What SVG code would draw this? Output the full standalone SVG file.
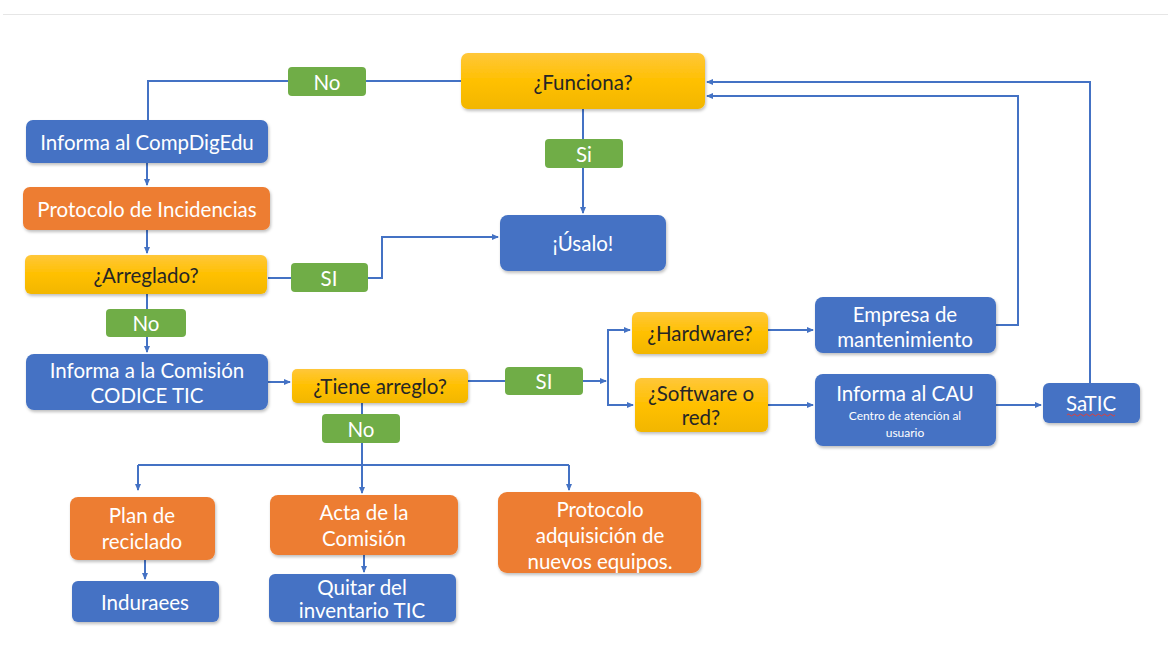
<svg xmlns="http://www.w3.org/2000/svg" width="1168" height="669" viewBox="0 0 1168 669">
<defs>
<linearGradient id="yel" x1="0" y1="0" x2="0" y2="1">
<stop offset="0" stop-color="#FFC73A"/>
<stop offset="0.5" stop-color="#FFC000"/>
<stop offset="1" stop-color="#F2B600"/>
</linearGradient>
<filter id="sh" x="-10%" y="-10%" width="120%" height="140%">
<feDropShadow dx="1" dy="2" stdDeviation="1.5" flood-color="#000" flood-opacity="0.25"/>
</filter>
<marker id="ar" markerWidth="8" markerHeight="8" refX="6" refY="4" orient="auto" markerUnits="userSpaceOnUse">
<path d="M0,1 L7,4 L0,7 Z" fill="#4472C4"/>
</marker>
</defs>
<style>
.b{fill:#4472C4}
.o{fill:#ED7D31}
.y{fill:url(#yel)}
.g{fill:#70AD47}
.box{filter:url(#sh)}
text{font-family:Lato,"Open Sans","Noto Sans",sans-serif;text-anchor:middle;dominant-baseline:central;font-size:20.5px}
text.s{font-size:12px}
.w{fill:#fff}
.k{fill:#262626}
.c{fill:none;stroke:#4472C4;stroke-width:2}
</style>
<rect width="1168" height="669" fill="#fff"/>
<line x1="3" y1="14.5" x2="1168" y2="14.5" stroke="#E6E6E6" stroke-width="1"/>

<g id="connectors">
<path class="c" d="M461,81 H148 V120"/>
<path class="c" d="M583,109 V213" marker-end="url(#ar)"/>
<path class="c" d="M147,163 V185" marker-end="url(#ar)"/>
<path class="c" d="M147,230 V253" marker-end="url(#ar)"/>
<path class="c" d="M268,278 H291"/>
<path class="c" d="M368,278 H382 V237 H498" marker-end="url(#ar)"/>
<path class="c" d="M147,294 V352" marker-end="url(#ar)"/>
<path class="c" d="M268,382 H290" marker-end="url(#ar)"/>
<path class="c" d="M468,381 H505"/>
<path class="c" d="M583,381 H606" marker-end="url(#ar)"/>
<path class="c" d="M630,330 H608 V405 H633" marker-end="url(#ar)"/>
<path class="c" d="M608,330 H630" marker-end="url(#ar)"/>
<path class="c" d="M768,330 H813" marker-end="url(#ar)"/>
<path class="c" d="M768,405 H813" marker-end="url(#ar)"/>
<path class="c" d="M996,405 H1041" marker-end="url(#ar)"/>
<path class="c" d="M996,325 H1018 V96 H707" marker-end="url(#ar)"/>
<path class="c" d="M1090,383 V82 H707" marker-end="url(#ar)"/>
<path class="c" d="M362,403 V465"/>
<path class="c" d="M138,465 H569"/>
<path class="c" d="M138,465 V490" marker-end="url(#ar)"/>
<path class="c" d="M362,465 V493" marker-end="url(#ar)"/>
<path class="c" d="M569,465 V490" marker-end="url(#ar)"/>
<path class="c" d="M145,560 V579" marker-end="url(#ar)"/>
<path class="c" d="M364,555 V572" marker-end="url(#ar)"/>
</g>

<g id="funciona"><rect class="y box" x="461" y="53" width="244" height="56" rx="7"/><text class="k" x="583" y="82">¿Funciona?</text></g>
<g id="lbl-no1"><rect class="g" x="288" y="67" width="78" height="29" rx="4"/><text class="w" x="327" y="82">No</text></g>
<g id="lbl-si1"><rect class="g" x="545" y="139" width="78" height="29" rx="4"/><text class="w" x="584" y="154">Si</text></g>
<g id="usalo"><rect class="b box" x="500" y="215" width="166" height="56" rx="8"/><text class="w" x="583" y="243">¡Úsalo!</text></g>
<g id="compdigedu"><rect class="b box" x="26" y="120" width="242" height="43" rx="7"/><text class="w" x="147" y="142">Informa al CompDigEdu</text></g>
<g id="incidencias"><rect class="o box" x="23" y="187" width="247" height="43" rx="7"/><text class="w" x="147" y="209">Protocolo de Incidencias</text></g>
<g id="arreglado"><rect class="y box" x="25" y="255" width="242" height="39" rx="6"/><text class="k" x="146" y="275">¿Arreglado?</text></g>
<g id="lbl-si2"><rect class="g" x="291" y="263" width="77" height="29" rx="4"/><text class="w" x="329" y="278">SI</text></g>
<g id="lbl-no2"><rect class="g" x="106" y="309" width="80" height="28" rx="4"/><text class="w" x="146" y="323">No</text></g>
<g id="comision"><rect class="b box" x="26" y="354" width="242" height="56" rx="8"/><text class="w" x="147" y="370">Informa a la Comisión</text><text class="w" x="147" y="395">CODICE TIC</text></g>
<g id="tiene"><rect class="y box" x="292" y="369" width="176" height="34" rx="5"/><text class="k" x="380" y="386">¿Tiene arreglo?</text></g>
<g id="lbl-si3"><rect class="g" x="505" y="367" width="78" height="28" rx="4"/><text class="w" x="544" y="381">SI</text></g>
<g id="lbl-no3"><rect class="g" x="322" y="414" width="78" height="29" rx="4"/><text class="w" x="361" y="429">No</text></g>
<g id="hardware"><rect class="y box" x="632" y="312" width="136" height="42" rx="6"/><text class="k" x="700" y="333">¿Hardware?</text></g>
<g id="software"><rect class="y box" x="635" y="378" width="133" height="54" rx="6"/><text class="k" x="701" y="393">¿Software o</text><text class="k" x="701" y="417">red?</text></g>
<g id="empresa"><rect class="b box" x="815" y="297" width="181" height="56" rx="8"/><text class="w" x="905" y="314">Empresa de</text><text class="w" x="905" y="339">mantenimiento</text></g>
<g id="cau"><rect class="b box" x="815" y="374" width="181" height="72" rx="8"/><text class="w" x="905" y="393">Informa al CAU</text><text class="w s" x="905" y="415">Centro de atención al</text><text class="w s" x="905" y="432">usuario</text></g>
<g id="satic"><rect class="b box" x="1043" y="383" width="97" height="40" rx="6"/><text class="w" x="1091" y="403">SaTIC</text><path d="M1067,415 q1.5,-2 3,0 t3,0 t3,0 t3,0 t3,0 t3,0 t3,0 t3,0 t3,0 t3,0 t3,0 t3,0 t3,0 t3,0 t3,0 t3,0" fill="none" stroke="#E0403A" stroke-width="1"/></g>
<g id="reciclado"><rect class="o box" x="70" y="497" width="145" height="63" rx="8"/><text class="w" x="142" y="515">Plan de</text><text class="w" x="142" y="541">reciclado</text></g>
<g id="acta"><rect class="o box" x="270" y="495" width="188" height="60" rx="8"/><text class="w" x="364" y="512">Acta de la</text><text class="w" x="364" y="538">Comisión</text></g>
<g id="adquisicion"><rect class="o box" x="498" y="492" width="203" height="81" rx="9"/><text class="w" x="600" y="509">Protocolo</text><text class="w" x="600" y="535">adquisición de</text><text class="w" x="600" y="561">nuevos equipos.</text></g>
<g id="induraees"><rect class="b box" x="72" y="581" width="147" height="41" rx="6"/><text class="w" x="145" y="602">Induraees</text></g>
<g id="quitar"><rect class="b box" x="269" y="574" width="187" height="48" rx="6"/><text class="w" x="362" y="587">Quitar del</text><text class="w" x="362" y="610">inventario TIC</text></g>
</svg>
